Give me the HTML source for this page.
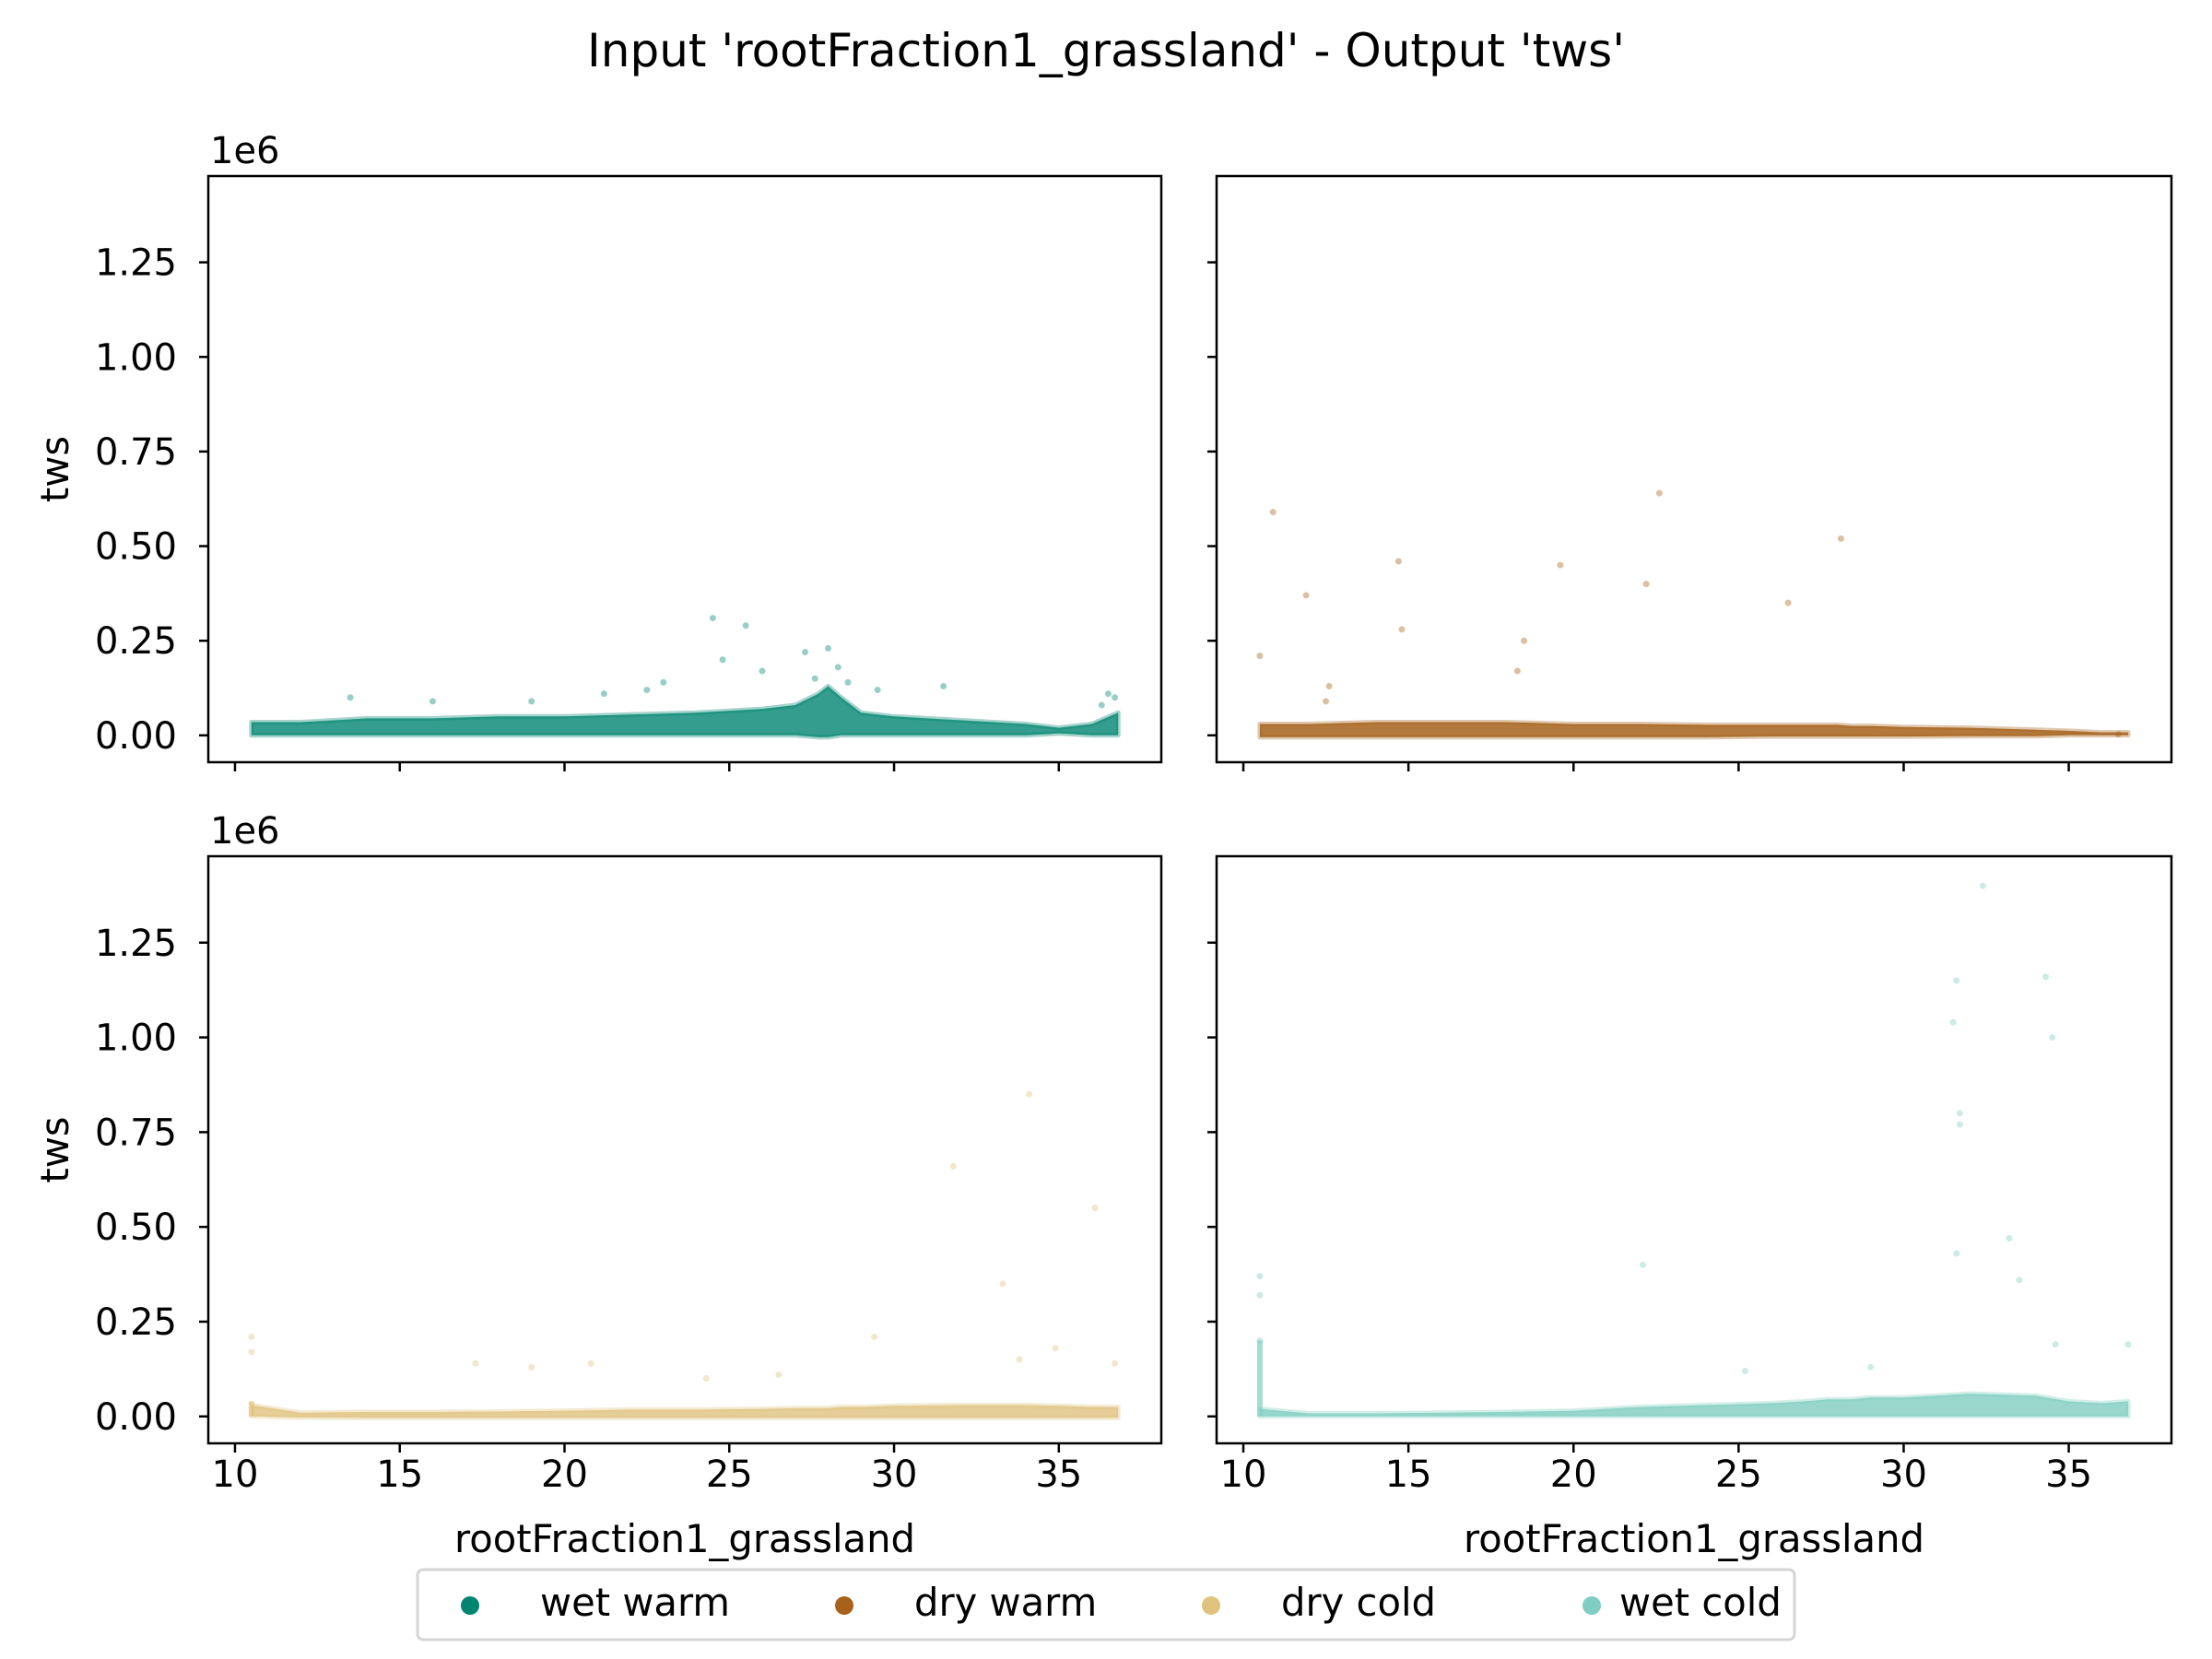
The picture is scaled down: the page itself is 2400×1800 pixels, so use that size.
<!DOCTYPE html>
<html><head><meta charset="utf-8">
<style>
html,body{margin:0;padding:0;background:#fff;}
svg{display:block;font-family:"DejaVu Sans","Liberation Sans",sans-serif;}
</style></head>
<body>
<svg id="fig" width="2400" height="1800" viewBox="0 0 2400 1800" xmlns="http://www.w3.org/2000/svg">
<rect width="2400" height="1800" fill="#fff"/>
<text x="1200" y="72" font-size="50" text-anchor="middle">Input 'rootFraction1_grassland' - Output 'tws'</text>
<g id="plots"></g>
<g>
<rect x="453" y="1703" width="1494" height="76" rx="6" fill="#fff" stroke="#d5d5d5" stroke-width="3"/>
<g><circle cx="510" cy="1742" r="10" fill="#018571"/><text x="586" y="1753" font-size="41.7">wet warm</text></g>
<g><circle cx="916" cy="1742" r="10" fill="#a6611a"/><text x="992" y="1753" font-size="41.7">dry warm</text></g>
<g><circle cx="1314" cy="1742" r="10" fill="#dfc27d"/><text x="1390" y="1753" font-size="41.7">dry cold</text></g>
<g><circle cx="1727" cy="1742" r="10" fill="#80cdc1"/><text x="1757" y="1753" font-size="41.7">wet cold</text></g>
</g>
</svg>
<script>
// ---- data (tws in units of 1e6) ----
const xTicks = [10, 15, 20, 25, 30, 35];
const yTicks = [0, 0.25, 0.5, 0.75, 1.0, 1.25];
const yTickLabels = ["0.00", "0.25", "0.50", "0.75", "1.00", "1.25"];
const seriesNames = ["wet warm", "dry warm", "dry cold", "wet cold"];
const seriesColors = ["#018571", "#a6611a", "#dfc27d", "#80cdc1"];
// dense band envelope per series: x positions, lower and upper tws
const bandX = [10.5, 12, 14, 16, 18, 20, 22, 24, 26, 27, 27.7, 28, 28.4, 29, 30, 32, 34, 35, 36, 36.8];
const wetWarmTop = [0.035, 0.035, 0.045, 0.045, 0.05, 0.05, 0.055, 0.06, 0.07, 0.08, 0.11, 0.13, 0.1, 0.06, 0.05, 0.04, 0.03, 0.02, 0.03, 0.06];
const wetWarmBot = [0.0, 0.0, 0.0, 0.0, 0.0, 0.0, 0.0, 0.0, 0.0, 0.0, -0.005, -0.005, 0.0, 0.0, 0.0, 0.0, 0.0, 0.005, 0.0, 0.0];
const dryWarmTop = [0.03, 0.03, 0.035, 0.035, 0.035, 0.03, 0.03, 0.028, 0.028, 0.028, 0.028, 0.028, 0.025, 0.025, 0.022, 0.02, 0.015, 0.012, 0.008, 0.008];
const dryWarmBot = [-0.005, -0.005, -0.005, -0.005, -0.005, -0.005, -0.005, -0.005, -0.003, -0.003, -0.003, -0.003, -0.003, -0.003, -0.003, -0.002, -0.002, 0.0, 0.0, 0.0];
const dryColdTop = [0.03, 0.01, 0.012, 0.012, 0.013, 0.015, 0.018, 0.018, 0.02, 0.022, 0.022, 0.022, 0.025, 0.025, 0.028, 0.03, 0.03, 0.028, 0.025, 0.025];
const dryColdBot = [0.0, -0.003, -0.004, -0.004, -0.004, -0.004, -0.004, -0.004, -0.004, -0.004, -0.004, -0.004, -0.004, -0.004, -0.004, -0.004, -0.004, -0.004, -0.004, -0.004];
const wetColdTop = [0.02, 0.008, 0.008, 0.01, 0.012, 0.015, 0.025, 0.03, 0.035, 0.04, 0.045, 0.045, 0.045, 0.05, 0.05, 0.06, 0.055, 0.04, 0.035, 0.04];
const wetColdBot = [0.0, 0.0, 0.0, 0.0, 0.0, 0.0, 0.0, 0.0, 0.0, 0.0, 0.0, 0.0, 0.0, 0.0, 0.0, 0.0, 0.0, 0.0, 0.0, 0.0];
// outlier points
const wetWarmPtsX = [24.5, 25.5, 27.3, 28, 26, 24.8, 23, 28.3, 29.5, 31.5, 21.2, 13.5, 36.5, 36.3, 36.7, 19, 16, 27.6, 28.6, 22.5];
const wetWarmPtsY = [0.31, 0.29, 0.22, 0.23, 0.17, 0.2, 0.14, 0.18, 0.12, 0.13, 0.11, 0.1, 0.11, 0.08, 0.1, 0.09, 0.09, 0.15, 0.14, 0.12];
const dryWarmPtsX = [10.9, 22.6, 28.1, 14.7, 19.6, 22.2, 11.9, 26.5, 14.8, 18.5, 10.5, 12.6, 18.3, 12.5, 36.5];
const dryWarmPtsY = [0.59, 0.64, 0.52, 0.46, 0.45, 0.4, 0.37, 0.35, 0.28, 0.25, 0.21, 0.13, 0.17, 0.09, 0.003];
const dryColdPtsX = [34.1, 31.8, 36.1, 33.3, 10.5, 10.5, 29.4, 17.3, 20.8, 33.8, 36.7, 34.9, 19.0, 24.3, 26.5];
const dryColdPtsY = [0.85, 0.66, 0.55, 0.35, 0.21, 0.17, 0.21, 0.14, 0.14, 0.15, 0.14, 0.18, 0.13, 0.1, 0.11];
const wetColdPtsX = [32.4, 31.6, 34.3, 31.5, 34.5, 31.7, 31.7, 33.2, 31.6, 33.5, 22.1, 10.5, 10.5, 10.5, 34.6, 36.8, 29.0, 25.2];
const wetColdPtsY = [1.4, 1.15, 1.16, 1.04, 1.0, 0.8, 0.77, 0.47, 0.43, 0.36, 0.4, 0.37, 0.32, 0.2, 0.19, 0.19, 0.13, 0.12];

const bands = [[wetWarmBot, wetWarmTop], [dryWarmBot, dryWarmTop], [dryColdBot, dryColdTop], [wetColdBot, wetColdTop]];
const pts = [[wetWarmPtsX, wetWarmPtsY], [dryWarmPtsX, dryWarmPtsY], [dryColdPtsX, dryColdPtsY], [wetColdPtsX, wetColdPtsY]];

const NS = "http://www.w3.org/2000/svg";
const root = document.getElementById("plots");
const panels = [
  {x0: 226, x1: 1260, y0: 191, y1: 827, left: true, bottom: false},
  {x0: 1320, x1: 2356, y0: 191, y1: 827, left: false, bottom: false},
  {x0: 226, x1: 1260, y0: 929, y1: 1566, left: true, bottom: true},
  {x0: 1320, x1: 2356, y0: 929, y1: 1566, left: false, bottom: true}
];
const XMIN = 9.19, XMAX = 38.11, YMIN = -0.071, YMAX = 1.478;
function mk(tag, attrs, parent) {
  const e = document.createElementNS(NS, tag);
  for (const k in attrs) e.setAttribute(k, attrs[k]);
  parent.appendChild(e);
  return e;
}
panels.forEach((p, i) => {
  const g = mk("g", {}, root);
  
  
  const sx = v => p.x0 + (v - XMIN) / (XMAX - XMIN) * (p.x1 - p.x0);
  const sy = v => p.y1 - (v - YMIN) / (YMAX - YMIN) * (p.y1 - p.y0);
  const col = seriesColors[i];
  const [bot, top] = bands[i];
  let d = "";
  bandX.forEach((x, k) => { d += (k ? "L" : "M") + sx(x).toFixed(1) + "," + sy(top[k]).toFixed(1); });
  for (let k = bandX.length - 1; k >= 0; k--) d += "L" + sx(bandX[k]).toFixed(1) + "," + sy(bot[k]).toFixed(1);
  d += "Z";
  const band = mk("path", {d: d, fill: col, "fill-opacity": i === 1 ? 0.85 : 0.8, stroke: col, "stroke-opacity": 0.35, "stroke-width": 5, "stroke-linejoin": "round"}, g);
  
  
  const [px, py] = pts[i];
  px.forEach((x, k) => {
    const c = mk("circle", {cx: sx(x), cy: sy(py[k]), r: 3.5, fill: col, "fill-opacity": 0.4}, g);
    
    
  });
  if (i === 3) {
    const l = mk("line", {x1: sx(10.5), x2: sx(10.5), y1: sy(0), y2: sy(0.2), stroke: col, "stroke-width": 6, "stroke-opacity": 0.7}, g);
    
    
  }
  if (i === 2) {
    const l = mk("line", {x1: sx(10.5), x2: sx(10.5), y1: sy(0), y2: sy(0.04), stroke: col, "stroke-width": 6, "stroke-opacity": 0.7}, g);
    
    
  }
  const fr = mk("rect", {x: p.x0, y: p.y0, width: p.x1 - p.x0, height: p.y1 - p.y0, fill: "none", stroke: "#000", "stroke-width": 2.5}, g);
  
  
  xTicks.forEach(t => {
    mk("line", {x1: sx(t), x2: sx(t), y1: p.y1, y2: p.y1 + 10, stroke: "#000", "stroke-width": 2.5}, g);
    if (p.bottom) {
      const tx = mk("text", {x: sx(t), y: p.y1 + 47, "font-size": 40, "text-anchor": "middle"}, g);
      tx.textContent = String(t);
      
      
    }
  });
  yTicks.forEach((t, k) => {
    mk("line", {x1: p.x0 - 10, x2: p.x0, y1: sy(t), y2: sy(t), stroke: "#000", "stroke-width": 2.5}, g);
    if (p.left) {
      const ty = mk("text", {x: p.x0 - 34, y: sy(t) + 14, "font-size": 40, "text-anchor": "end"}, g);
      ty.textContent = yTickLabels[k];
      
      
    }
  });
  if (p.left) {
    const off = mk("text", {x: p.x0 + 2, y: p.y0 - 14, "font-size": 40}, g);
    off.textContent = "1e6";
    
    
    const yl = mk("text", {x: 0, y: 0, "font-size": 41.7, "text-anchor": "middle", transform: "translate(74," + ((p.y0 + p.y1) / 2) + ") rotate(-90)"}, g);
    yl.textContent = "tws";
    
    
  }
  if (p.bottom) {
    const xl = mk("text", {x: (p.x0 + p.x1) / 2, y: 1684, "font-size": 41.7, "text-anchor": "middle"}, g);
    xl.textContent = "rootFraction1_grassland";
    
    
  }
});
</script>
</body></html>
